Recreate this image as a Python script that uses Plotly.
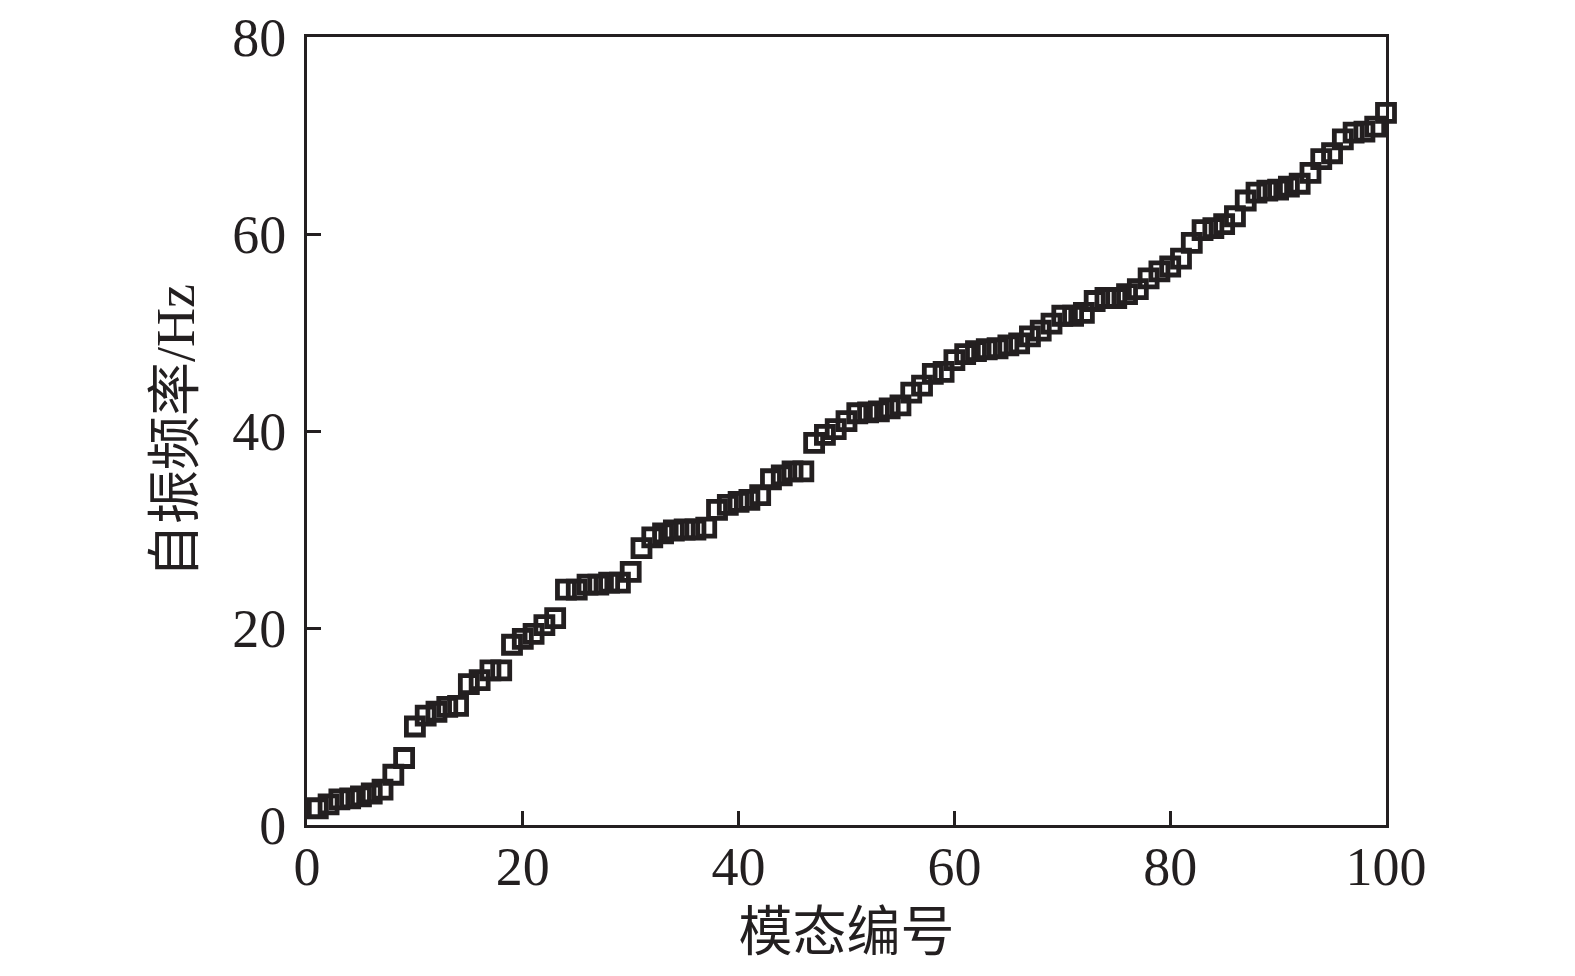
import plotly.graph_objects as go

modes = list(range(1, 101))
freq = [1.7, 2.1, 2.6, 2.7, 2.9, 3.2, 3.6, 5.1, 6.8, 10.0,
        11.1, 11.5, 12.0, 12.1, 14.3, 14.7, 15.7, 15.7, 18.3, 18.9,
        19.4, 20.3, 21.0, 23.9, 23.9, 24.4, 24.4, 24.6, 24.6, 25.7,
        28.1, 29.2, 29.6, 29.9, 30.0, 30.0, 30.2, 32.0, 32.5, 32.8,
        33.0, 33.5, 35.1, 35.5, 35.9, 35.9, 38.8, 39.6, 40.2, 41.0,
        41.8, 41.9, 42.0, 42.3, 42.6, 43.9, 44.6, 45.8, 46.0, 47.2,
        47.8, 48.1, 48.3, 48.4, 48.7, 48.9, 49.6, 50.2, 50.9, 51.7,
        51.7, 52.0, 53.2, 53.5, 53.5, 53.9, 54.4, 55.5, 56.2, 56.7,
        57.5, 59.1, 60.4, 60.6, 61.0, 61.8, 63.4, 64.2, 64.4, 64.5,
        64.8, 65.1, 66.2, 67.6, 68.2, 69.6, 70.3, 70.4, 70.9, 72.3]

x_ticks = [0, 20, 40, 60, 80, 100]
y_ticks = [0, 20, 40, 60, 80]
x_title = "模态编号"
y_title = "自振频率/Hz"

ink = "#231f20"
font_family = "Liberation Serif, Noto Sans CJK SC, serif"

fig = go.Figure()
fig.add_trace(go.Scatter(
    x=modes, y=freq, mode="markers",
    marker=dict(symbol="square-open", size=17, color=ink,
                line=dict(width=4.8, color=ink)),
    cliponaxis=False, showlegend=False,
))

axis_common = dict(
    showgrid=False, zeroline=False, automargin=False,
    showline=True, linecolor=ink, linewidth=3, mirror=True,
    ticks="inside", ticklen=14, tickwidth=3, tickcolor=ink,
    ticklabeloverflow="allow",
    tickfont=dict(family=font_family, size=54, color=ink),
)

fig.update_layout(
    width=1575, height=976,
    margin=dict(l=299, r=197, t=29, b=159),
    paper_bgcolor="white", plot_bgcolor="white",
    font=dict(family=font_family, color=ink),
    xaxis=dict(range=[0, 100], tickvals=x_ticks, ticktext=[str(v) for v in x_ticks],
               ticklabelstandoff=-8,
               title=dict(text=x_title, font=dict(size=54, family=font_family, color=ink), standoff=18),
               **axis_common),
    yaxis=dict(range=[0, 80], tickvals=y_ticks, ticktext=[str(v) for v in y_ticks],
               ticklabelstandoff=7,
               title=dict(text=y_title, font=dict(size=54, family=font_family, color=ink), standoff=21),
               **axis_common),
)

fig.write_html("out.html")
